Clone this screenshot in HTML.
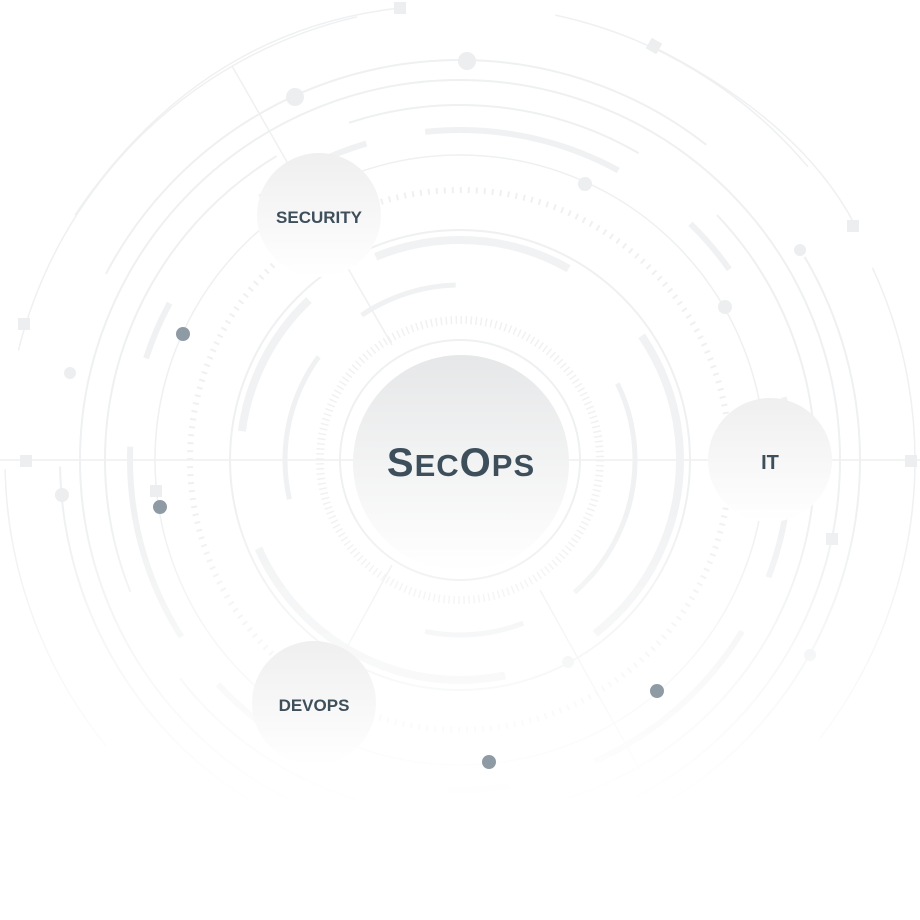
<!DOCTYPE html>
<html><head><style>
html,body{margin:0;padding:0;background:#fff;}
svg{display:block}
text{font-family:"Liberation Sans",sans-serif;font-weight:bold;fill:#3e4f5c}
</style></head><body>
<svg width="920" height="920" viewBox="0 0 920 920">
<defs>
<linearGradient id="g" x1="0" y1="0" x2="0" y2="1">
<stop offset="0" stop-color="#e6e7e8"/><stop offset="1" stop-color="#ffffff"/>
</linearGradient>
<linearGradient id="g2" x1="0" y1="0" x2="0" y2="1">
<stop offset="0" stop-color="#efefef"/><stop offset="1" stop-color="#ffffff"/>
</linearGradient>
<linearGradient id="fade" x1="0" y1="0" x2="0" y2="920" gradientUnits="userSpaceOnUse">
<stop offset="0" stop-color="#fff"/><stop offset="0.55" stop-color="#fff"/><stop offset="0.88" stop-color="#000"/>
</linearGradient>
<mask id="m"><rect width="920" height="920" fill="url(#fade)"/></mask>
</defs>
<g mask="url(#m)">
<g fill="none" stroke="#eef0f1">
<line x1="0" y1="460" x2="920" y2="460" stroke-width="1.5"/>
<circle cx="460" cy="460" r="455" stroke-width="1.5" stroke-dasharray="300 120 500 200"/>
<circle cx="460" cy="460" r="400" stroke-width="2" stroke-dasharray="700 150 400 200"/>
<circle cx="460" cy="460" r="380" stroke-width="2"/>
<circle cx="460" cy="460" r="355" stroke-width="2" stroke-dasharray="500 80 300 100"/>
<circle cx="460" cy="460" r="330" stroke-width="6" stroke-dasharray="120 60 200 90 60 140" stroke="#f0f1f2"/>
<circle cx="460" cy="460" r="305" stroke-width="1.5"/>
<circle cx="460" cy="460" r="270" stroke-width="6" stroke-dasharray="2 6" stroke="#eef0f1"/>
<circle cx="460" cy="460" r="230" stroke-width="2"/>
<circle cx="460" cy="460" r="220" stroke-width="8" stroke-dasharray="200 100 300 120 150 80" stroke="#f1f2f3"/>
<circle cx="460" cy="460" r="175" stroke-width="5" stroke-dasharray="150 60 100 200" stroke="#f0f1f2"/>
<circle cx="460" cy="460" r="140" stroke-width="8" stroke-dasharray="1.5 3.5" stroke="#f0f1f2"/>
<circle cx="460" cy="460" r="120" stroke-width="2"/>
<line x1="232" y1="66" x2="392" y2="345" stroke-width="1.5"/>
<line x1="392" y1="565" x2="340" y2="660" stroke-width="1.5"/>
<line x1="540" y1="590" x2="640" y2="770" stroke-width="1.5"/>
<path d="M650 45 Q800 120 855 225" stroke-width="1.5"/>
<path d="M75 215 Q200 30 400 8" stroke-width="1.5"/>
</g>
<g fill="#eceeef">
<rect x="394" y="2" width="12" height="12"/><rect x="648" y="40" width="12" height="12" transform="rotate(30 654 46)"/>
<rect x="847" y="220" width="12" height="12"/><rect x="905" y="455" width="12" height="12"/>
<rect x="18" y="318" width="12" height="12"/><rect x="20" y="455" width="12" height="12"/>
<rect x="826" y="533" width="12" height="12"/><rect x="150" y="485" width="12" height="12"/>
<circle cx="295" cy="97" r="9"/><circle cx="467" cy="61" r="9"/><circle cx="585" cy="184" r="7"/>
<circle cx="725" cy="307" r="7"/><circle cx="352" cy="259" r="7"/><circle cx="800" cy="250" r="6"/>
<circle cx="62" cy="495" r="7"/><circle cx="70" cy="373" r="6"/><circle cx="810" cy="655" r="6"/><circle cx="568" cy="662" r="6"/>
</g>
</g>
<g fill="#8f9ba4">
<circle cx="183" cy="334" r="7"/><circle cx="160" cy="507" r="7"/><circle cx="657" cy="691" r="7"/><circle cx="489" cy="762" r="7"/>
</g>
<circle cx="319" cy="215" r="62" fill="url(#g2)"/>
<circle cx="770" cy="460" r="62" fill="url(#g2)"/>
<circle cx="314" cy="703" r="62" fill="url(#g2)"/>
<circle cx="461" cy="463" r="108" fill="url(#g)"/>
<text x="319" y="223" font-size="17" text-anchor="middle">SECURITY</text>
<text x="770" y="469" font-size="20" text-anchor="middle">IT</text>
<text x="314" y="711" font-size="17" text-anchor="middle">DEVOPS</text>
<text x="461" y="476" font-size="40" text-anchor="middle" letter-spacing="1">S<tspan font-size="31">EC</tspan>O<tspan font-size="31">PS</tspan></text>
</svg>
</body></html>
